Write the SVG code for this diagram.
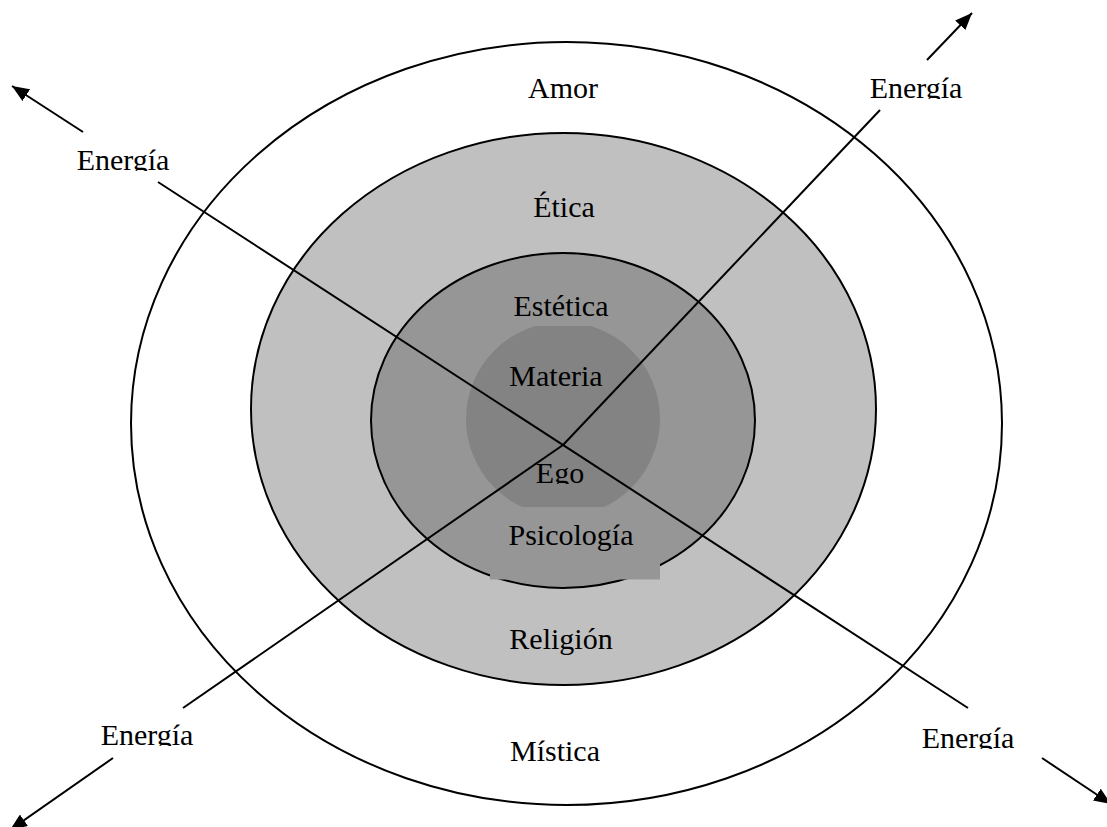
<svg xmlns="http://www.w3.org/2000/svg" width="1107" height="827" viewBox="0 0 1107 827">
<style>
.ring{stroke:#000;stroke-width:2}
.lbl{font-family:"Liberation Serif","Times New Roman",serif;font-size:30px;fill:#000;text-anchor:middle}
.con{stroke:#000;stroke-width:2;fill:none}
</style>
<defs>
<marker id="ah" markerUnits="userSpaceOnUse" markerWidth="18" markerHeight="14" refX="17" refY="7" orient="auto">
<path d="M0,0 L17,7 L0,14 z" fill="#000"/>
</marker>
<clipPath id="cE1"><rect x="0" y="0" width="300" height="171"/></clipPath>
<clipPath id="cE2"><rect x="800" y="0" width="307" height="99"/></clipPath>
<clipPath id="cE3"><rect x="0" y="600" width="300" height="146"/></clipPath>
<clipPath id="cE4"><rect x="800" y="600" width="307" height="149"/></clipPath>
<clipPath id="cEgo"><rect x="480" y="400" width="160" height="84"/></clipPath>
<clipPath id="cRel"><rect x="480" y="600" width="160" height="55"/></clipPath>
</defs>
<rect width="1107" height="827" fill="#fff"/>
<g id="mistica">
<ellipse cx="566.5" cy="423.5" rx="435.5" ry="381.5" fill="#fff" class="ring"/>
</g>
<g id="religion">
<ellipse cx="563.5" cy="409" rx="312.5" ry="276" fill="#c0c0c0" class="ring"/>
</g>
<g id="psicologia">
<ellipse cx="563" cy="420.5" rx="192" ry="167.5" fill="#969696" class="ring"/>
</g>
<g id="ego">
<circle cx="563" cy="419" r="97" fill="#838383"/>
</g>
<g id="textboxes">
<rect x="490" y="283" width="170" height="43" fill="#969696"/>
<rect x="490" y="507" width="170" height="72.5" fill="#969696"/>
</g>
<g id="labels">
<text class="lbl" x="563" y="98">Amor</text>
<text class="lbl" x="564" y="217">Ética</text>
<text class="lbl" x="561" y="316">Estética</text>
<text class="lbl" x="556" y="386">Materia</text>
<text class="lbl" x="560" y="483" clip-path="url(#cEgo)">Ego</text>
<text class="lbl" x="571" y="545">Psicología</text>
<text class="lbl" x="561" y="649" clip-path="url(#cRel)">Religión</text>
<text class="lbl" x="555" y="761">Mística</text>
<text class="lbl" x="123" y="170" clip-path="url(#cE1)">Energía</text>
<text class="lbl" x="916" y="98" clip-path="url(#cE2)">Energía</text>
<text class="lbl" x="147" y="745" clip-path="url(#cE3)">Energía</text>
<text class="lbl" x="968" y="748" clip-path="url(#cE4)">Energía</text>
</g>
<g id="connectors">
<line class="con" x1="158" y1="182" x2="968" y2="708"/>
<line class="con" x1="183" y1="708" x2="563" y2="445"/>
<line class="con" x1="563" y1="445" x2="880" y2="110"/>
<line class="con" x1="83" y1="132" x2="12" y2="86" marker-end="url(#ah)"/>
<line class="con" x1="927" y1="60" x2="972" y2="13" marker-end="url(#ah)"/>
<line class="con" x1="113" y1="758" x2="10" y2="830" marker-end="url(#ah)"/>
<line class="con" x1="1042" y1="758" x2="1111" y2="804" marker-end="url(#ah)"/>
</g>
</svg>
